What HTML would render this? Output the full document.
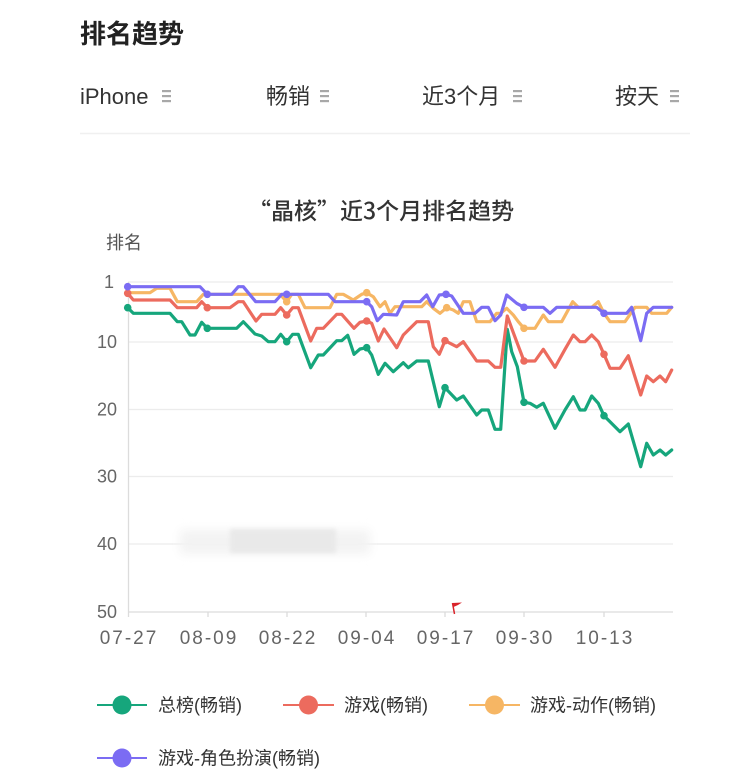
<!DOCTYPE html>
<html><head><meta charset="utf-8">
<style>
html,body{margin:0;padding:0;background:#fff;}
body{width:751px;height:778px;overflow:hidden;position:relative;font-family:"Liberation Sans","Noto Sans CJK SC",sans-serif;}
svg{position:absolute;left:0;top:0;}
</style></head>
<body>
<svg width="751" height="778" viewBox="0 0 751 778" xmlns="http://www.w3.org/2000/svg" font-family="Liberation Sans, Noto Sans CJK SC, sans-serif">
<defs>
<filter id="bl" x="-30%" y="-80%" width="160%" height="260%"><feGaussianBlur stdDeviation="5"/></filter>
<filter id="bl2" x="-30%" y="-80%" width="160%" height="260%"><feGaussianBlur stdDeviation="2"/></filter>
</defs>
<!-- header -->
<text x="80" y="43" font-size="26" font-weight="bold" fill="#222">排名趋势</text>
<g font-size="22" fill="#333">
<text x="80" y="104">iPhone</text>
<text x="266" y="104">畅销</text>
<text x="422" y="104">近3个月</text>
<text x="615" y="104">按天</text>
</g>
<g fill="#a8a8a8">
<rect x="162" y="90" width="9" height="2.2"/><rect x="162" y="95" width="9" height="2.2"/><rect x="162" y="100" width="9" height="2.2"/>
<rect x="320" y="90" width="9" height="2.2"/><rect x="320" y="95" width="9" height="2.2"/><rect x="320" y="100" width="9" height="2.2"/>
<rect x="513" y="90" width="9" height="2.2"/><rect x="513" y="95" width="9" height="2.2"/><rect x="513" y="100" width="9" height="2.2"/>
<rect x="670" y="90" width="9" height="2.2"/><rect x="670" y="95" width="9" height="2.2"/><rect x="670" y="100" width="9" height="2.2"/>
</g>
<line x1="80" y1="133.5" x2="690" y2="133.5" stroke="#f0f0f0" stroke-width="1.5"/>

<!-- chart title -->
<text x="248" y="219" font-size="23" fill="#333" font-weight="500" font-family="Noto Sans CJK SC, sans-serif">“晶核”近3个月排名趋势</text>
<text x="106" y="249" font-size="18" fill="#555">排名</text>

<!-- grid -->
<g stroke="#ececec" stroke-width="1.2">
<line x1="128" y1="282" x2="673" y2="282"/>
<line x1="128" y1="342" x2="673" y2="342"/>
<line x1="128" y1="409.5" x2="673" y2="409.5"/>
<line x1="128" y1="476.5" x2="673" y2="476.5"/>
<line x1="128" y1="544" x2="673" y2="544"/>
</g>
<g stroke="#dcdcdc" stroke-width="1.3">
<line x1="128.5" y1="282" x2="128.5" y2="612"/>
<line x1="128" y1="612" x2="673" y2="612"/>
<line x1="128.5" y1="612" x2="128.5" y2="617"/>
<line x1="208" y1="612" x2="208" y2="617"/>
<line x1="287" y1="612" x2="287" y2="617"/>
<line x1="366" y1="612" x2="366" y2="617"/>
<line x1="445" y1="612" x2="445" y2="617"/>
<line x1="524" y1="612" x2="524" y2="617"/>
<line x1="604" y1="612" x2="604" y2="617"/>
</g>
<!-- y labels -->
<g font-size="18" fill="#666" text-anchor="end">
<text x="114" y="288">1</text>
<text x="117" y="348">10</text>
<text x="117" y="415.5">20</text>
<text x="117" y="482.5">30</text>
<text x="117" y="550">40</text>
<text x="117" y="618">50</text>
</g>
<!-- x labels -->
<g font-size="19" fill="#666" text-anchor="middle" letter-spacing="2">
<text x="129" y="644">07-27</text>
<text x="209" y="644">08-09</text>
<text x="288" y="644">08-22</text>
<text x="367" y="644">09-04</text>
<text x="446" y="644">09-17</text>
<text x="525" y="644">09-30</text>
<text x="605" y="644">10-13</text>
</g>

<!-- blurred watermark -->
<rect x="180" y="530" width="190" height="24" fill="#f3f3f3" filter="url(#bl)"/>
<rect x="230" y="529" width="106" height="24" fill="#e9e9e9" filter="url(#bl2)"/>

<!-- red flag -->
<path d="M452.5,603 L454.5,614" stroke="#d9232a" stroke-width="1.5" fill="none"/>
<path d="M452.5,603 L462,602.5 L458,605 L453.5,607 Z" fill="#d9232a"/>

<!-- series -->
<g fill="none" stroke-width="3.2" stroke-linejoin="round" stroke-linecap="round">
<polyline stroke="#16a67c" points="127.7,307.7 133.3,313.3 170,313.3 177.3,321.7 181.7,321.7 190,335 195,335 201.7,322.3 207.3,328.3 236.7,328.3 243.3,321.7 255,334 261.7,336 268.3,341.7 275,341.7 280.7,334.3 286.7,341.7 292.7,334.3 298.3,334.3 310.7,367.7 318.3,355 323.3,355 336.7,340.7 341.7,340.7 347.7,335.3 354,354.3 360,349 366.7,347.7 371.7,355 378.3,374.3 385,363.3 393.3,371.7 403.3,362.7 408.3,367.7 416.7,361 428.3,361 439.3,406.7 445,387.7 456.7,400 463.3,396 476.7,415 481.7,410 488.3,410 495,429.3 500.7,429.3 507.3,329.3 511.7,351.7 517.3,366.7 524,402.3 530,403.3 536.7,407.3 543.3,403.3 555,428.3 565,410 573.3,396.7 580,410 585,410 591.7,396 598.3,403.3 604,415.7 610,421.7 620,431.7 628.3,424 640.7,466.7 646.7,443.3 653.3,455 660,450 665.7,455 671.7,450"/>
<polyline stroke="#ec6b5e" points="127.7,293.3 133.3,300 170,300 177.3,307.7 196.7,307.7 201.7,301.7 207.3,307.7 230,307.7 238.3,301.7 243.3,301.7 256,321 261.7,314.3 275,314.3 280.7,307.7 286.7,315 292.7,307.7 298.3,307.7 310.7,341 316.7,328.3 323.3,328.3 336.7,314.3 341.7,314.3 354,328.3 360,322.3 366.7,321 371.7,323.3 378.3,341 384,329 396.7,347.7 403.3,335 416.7,321.7 428.3,321.7 433.3,346.7 439.3,354.3 445,340.7 456.7,346.7 463.3,341.7 476.7,361 488.3,361 495,367.3 500.7,367.3 507.3,316 511.7,328.3 517.3,343.3 524,361 535,361 543.3,349.3 555,367.3 565,349.3 573.3,335 580,341.7 585,341.7 591.7,335 598.3,341.7 604,354.3 610,368.3 620,368.3 628.3,355.7 640.7,395 646.7,376 653.3,381.7 660,376 665.7,381.7 671.7,370"/>
<polyline stroke="#f6b664" points="127.7,292.7 150,292.7 156.7,288.3 170,288.3 177.3,301.7 196.7,301.7 203.3,294.3 280,294.3 286.7,301.7 291.7,294.3 298.3,294.3 305,307.7 330,307.7 336.7,294.3 343.3,294.3 353.3,300 361.7,294.3 366.7,292.7 373.3,296.7 380,306.7 385,301.7 390,313.3 395,306.7 421.7,306.7 426.7,301.7 433.3,308.3 440,313.3 446.7,307.7 453.3,310 458.3,313.3 463.3,301.7 470,301.7 476.7,321.7 490,321.7 496.7,313.3 500.7,313.3 506.7,308.3 513.3,315 518.3,321.7 524,328.3 535,328.3 543.3,315 548.3,321.7 561.7,321.7 572.7,301.7 578.3,307.3 591.7,307.3 598.3,301.7 604,313.3 610,321.7 625,321.7 635,307.3 646.7,307.3 651.7,313.3 666.7,313.3 671.7,307.3"/>
<polyline stroke="#7b6cf3" points="127.7,286.7 200,286.7 207.3,294.3 231.7,294.3 238.3,286.7 243.3,286.7 255.7,301.7 275,301.7 281.7,294.3 328.3,294.3 335,301.7 366.7,301.7 371.7,306.7 377.3,320.7 383.3,314.3 396.7,315 403.3,301.7 420,301.7 426.7,295 432.7,306.7 439.3,295 446,294.3 451.7,296 463.3,313.3 475,313.3 481.7,307.3 488.3,307.3 495,320.7 500.7,315 506.7,295 516.7,303.3 524,307.3 543.3,307.3 550,313.3 556.7,307.3 596.7,307.3 604,313.3 626.7,313.3 631.7,307.3 640.7,340.7 646.7,313.3 653.3,307.3 671.7,307.3"/>
</g>
<!-- dots -->
<g fill="#16a67c">
<circle cx="127.7" cy="307.7" r="3.8"/><circle cx="207.3" cy="328.3" r="3.8"/><circle cx="286.7" cy="341.7" r="3.8"/><circle cx="366.7" cy="347.7" r="3.8"/><circle cx="445" cy="387.7" r="3.8"/><circle cx="524" cy="402.3" r="3.8"/><circle cx="604" cy="415.7" r="3.8"/>
</g>
<g fill="#ec6b5e">
<circle cx="127.7" cy="293.3" r="3.8"/><circle cx="207.3" cy="307.7" r="3.8"/><circle cx="286.7" cy="315" r="3.8"/><circle cx="366.7" cy="321" r="3.8"/><circle cx="445" cy="340.7" r="3.8"/><circle cx="524" cy="361" r="3.8"/><circle cx="604" cy="354.3" r="3.8"/>
</g>
<g fill="#f6b664">
<circle cx="286.7" cy="301.7" r="3.8"/><circle cx="366.7" cy="292.7" r="3.8"/><circle cx="446.7" cy="307.7" r="3.8"/><circle cx="524" cy="328.3" r="3.8"/>
</g>
<g fill="#7b6cf3">
<circle cx="127.7" cy="286.7" r="3.8"/><circle cx="207.3" cy="294.3" r="3.8"/><circle cx="286.7" cy="294.3" r="3.8"/><circle cx="366.7" cy="301.7" r="3.8"/><circle cx="446" cy="294.3" r="3.8"/><circle cx="524" cy="307.3" r="3.8"/><circle cx="604" cy="313.3" r="3.8"/>
</g>

<!-- legend -->
<g stroke-width="2">
<line x1="97" y1="705" x2="147" y2="705" stroke="#16a67c"/>
<line x1="283" y1="705" x2="334" y2="705" stroke="#ec6b5e"/>
<line x1="469" y1="705" x2="520" y2="705" stroke="#f6b664"/>
<line x1="97" y1="758" x2="147" y2="758" stroke="#7b6cf3"/>
</g>
<circle cx="122" cy="705" r="9.5" fill="#16a67c"/>
<circle cx="308.5" cy="705" r="9.5" fill="#ec6b5e"/>
<circle cx="494.5" cy="705" r="9.5" fill="#f6b664"/>
<circle cx="122" cy="758" r="9.5" fill="#7b6cf3"/>
<g font-size="18" fill="#333">
<text x="158" y="711.5">总榜(畅销)</text>
<text x="344" y="711.5">游戏(畅销)</text>
<text x="530" y="711.5">游戏-动作(畅销)</text>
<text x="158" y="764.5">游戏-角色扮演(畅销)</text>
</g>
</svg>
</body></html>
